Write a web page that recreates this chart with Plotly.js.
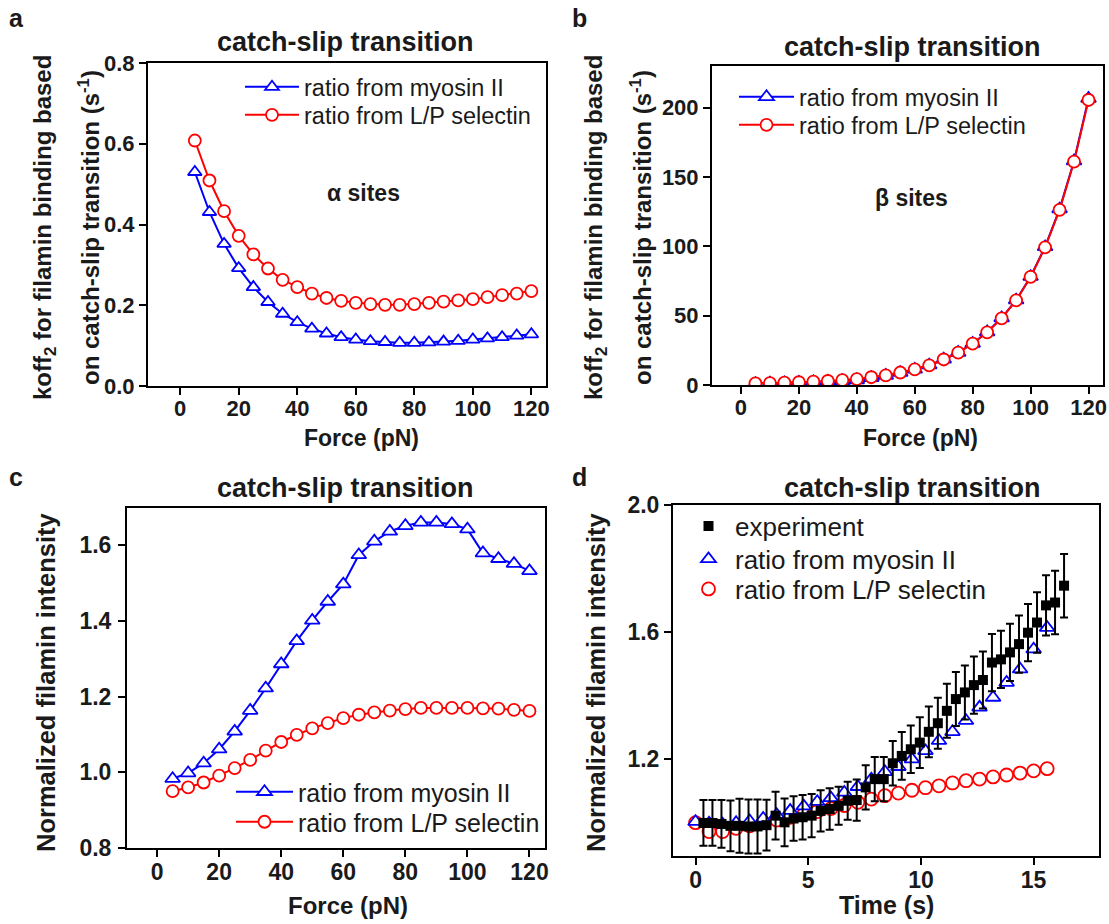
<!DOCTYPE html>
<html><head><meta charset="utf-8">
<script src="https://cdn.plot.ly/plotly-3.0.1.min.js"></script>
<style>html,body{margin:0;padding:0;background:#fff}#chart{width:1109px;height:924px}</style>
</head><body><div id="chart"></div>
<script>
// ---------- data ----------
const force = [5,10,15,20,25,30,35,40,45,50,55,60,65,70,75,80,85,90,95,100,105,110,115,120];
const aMyosin = [0.530,0.431,0.352,0.292,0.245,0.208,0.179,0.158,0.142,0.130,0.121,0.115,0.111,0.109,0.107,0.107,0.108,0.110,0.112,0.115,0.118,0.121,0.125,0.128];
const aSelectin = [0.608,0.509,0.433,0.372,0.326,0.291,0.263,0.245,0.229,0.218,0.211,0.206,0.203,0.201,0.201,0.203,0.206,0.209,0.212,0.215,0.220,0.225,0.229,0.235];
const bMyosin = [1.0,1.2,1.5,1.8,2.2,2.6,3.0,3.6,5.2,6.8,8.9,11.2,14.3,18.5,23.4,29.9,38.2,48.3,61.2,78.1,99.6,126.8,161.5,206.5];
const bSelectin = [1.2,1.4,1.7,2.0,2.4,2.9,3.5,4.3,5.6,7.0,9.0,11.3,14.2,18.4,23.3,29.8,38.0,48.0,61.0,77.9,99.3,126.3,161.0,205.5];
const cMyosin = [0.983,0.998,1.024,1.061,1.108,1.163,1.222,1.286,1.347,1.401,1.451,1.497,1.574,1.610,1.636,1.651,1.660,1.660,1.656,1.642,1.579,1.564,1.551,1.532];
const cSelectin = [0.950,0.960,0.973,0.991,1.011,1.033,1.057,1.080,1.099,1.116,1.130,1.143,1.152,1.158,1.163,1.167,1.170,1.170,1.170,1.170,1.169,1.168,1.165,1.162];
const timeExp = [0.35,0.75,1.15,1.55,1.95,2.35,2.75,3.15,3.55,3.95,4.35,4.75,5.15,5.55,5.95,6.35,6.75,7.15,7.55,7.95,8.35,8.75,9.15,9.55,9.95,10.35,10.75,11.15,11.55,11.95,12.35,12.75,13.15,13.55,13.95,14.35,14.75,15.15,15.55,15.95,16.35];
const dExperiment = [0.999,0.999,0.996,0.990,0.990,0.988,0.988,0.992,1.022,1.001,1.013,1.017,1.022,1.037,1.043,1.053,1.069,1.071,1.111,1.137,1.137,1.187,1.210,1.231,1.252,1.286,1.313,1.352,1.389,1.410,1.433,1.449,1.504,1.514,1.536,1.562,1.598,1.630,1.684,1.693,1.746];
const dError = [0.072,0.072,0.075,0.080,0.085,0.085,0.085,0.080,0.075,0.075,0.070,0.070,0.068,0.065,0.065,0.060,0.060,0.065,0.070,0.070,0.070,0.070,0.075,0.075,0.080,0.080,0.080,0.085,0.085,0.085,0.090,0.090,0.090,0.090,0.090,0.090,0.090,0.095,0.095,0.100,0.100];
const timeModel = [0,0.6,1.2,1.8,2.4,3.0,3.6,4.2,4.8,5.4,6.0,6.6,7.2,7.8,8.4,9.0,9.6,10.2,10.8,11.4,12.0,12.6,13.2,13.8,14.4,15.0,15.6];
const dMyosin = [1.003,0.998,0.995,1.000,1.005,1.013,1.025,1.038,1.052,1.066,1.078,1.095,1.113,1.137,1.160,1.176,1.200,1.226,1.258,1.286,1.321,1.363,1.394,1.441,1.483,1.546,1.614];
const dSelectin = [1.000,0.972,0.972,0.982,0.990,1.000,1.008,1.017,1.026,1.035,1.044,1.054,1.064,1.074,1.085,1.093,1.102,1.110,1.116,1.125,1.132,1.137,1.144,1.150,1.156,1.163,1.170];

const nameMyosin = 'ratio from myosin II';
const nameSelectin = 'ratio from L/P selectin';
const nameExp = 'experiment';

// ---------- styling ----------
const W = 1109, H = 924;
const FONT = 'Liberation Sans, Arial, sans-serif';
const TXT = '#1a1a1a';
const BLUE = '#0000ff', RED = '#ff0000';
const px = v => v / W, py = v => 1 - v / H;

function lm(color, symbol, size, leg, xa, ya, x, y, name, mode) {
  return {x, y, name, type: 'scatter', mode: mode || 'lines+markers', xaxis: xa, yaxis: ya, legend: leg,
    line: {color, width: 2},
    marker: {symbol, size, color: '#ffffff', line: {color, width: 1.8}}};
}

const traces = [
  lm(BLUE, 'triangle-up', 12, 'legend', 'x', 'y', force, aMyosin, nameMyosin),
  lm(RED, 'circle', 12, 'legend2', 'x', 'y', force, aSelectin, nameSelectin),
  lm(BLUE, 'triangle-up', 13, 'legend3', 'x2', 'y2', force, bMyosin, nameMyosin),
  lm(RED, 'circle', 12, 'legend4', 'x2', 'y2', force, bSelectin, nameSelectin),
  lm(BLUE, 'triangle-up', 13, 'legend5', 'x3', 'y3', force, cMyosin, nameMyosin),
  lm(RED, 'circle', 12, 'legend6', 'x3', 'y3', force, cSelectin, nameSelectin),
  lm(RED, 'circle', 13, 'legend9', 'x4', 'y4', timeModel, dSelectin, nameSelectin, 'markers'),
  lm(BLUE, 'triangle-up', 13, 'legend8', 'x4', 'y4', timeModel, dMyosin, nameMyosin, 'markers'),
  {x: timeExp, y: dExperiment, name: nameExp, type: 'scatter', mode: 'markers', xaxis: 'x4', yaxis: 'y4', legend: 'legend7',
   marker: {symbol: 'square', size: 10, color: '#000000'},
   error_y: {type: 'data', array: dError, visible: true, color: '#000000', thickness: 2, width: 4}}
];

function ax(domain, range, fs, extra) {
  return Object.assign({domain, range, showgrid: false, zeroline: false, showline: true, linecolor: '#000', linewidth: 2,
    mirror: true, ticks: 'outside', ticklen: 7, tickwidth: 2, tickcolor: '#000',
    tickfont: {family: FONT, size: fs, color: TXT, weight: 'bold'}}, extra || {});
}
const xT = {tickmode: 'array', tickvals: [0,20,40,60,80,100,120], ticklabelstandoff: -5};

function leg(x, y, iw, fs) {
  return {bgcolor: 'rgba(0,0,0,0)', borderwidth: 0, font: {family: FONT, size: fs, color: TXT},
    xanchor: 'left', yanchor: 'middle', x: px(x), y: py(y), itemwidth: iw};
}

function ann(text, x, y, size, opts) {
  return Object.assign({text, x: px(x), y: py(y), xref: 'paper', yref: 'paper', showarrow: false,
    xanchor: 'center', yanchor: 'middle', font: {family: FONT, size, color: TXT, weight: 'bold'}}, opts || {});
}

const layout = {
  width: W, height: H, margin: {l: 0, r: 0, t: 0, b: 0}, paper_bgcolor: '#fff', plot_bgcolor: '#fff',
  showlegend: true,
  xaxis: ax([px(148), px(546)], [-11, 125], 22, Object.assign({anchor: 'y'}, xT)),
  yaxis: ax([py(386), py(63)], [0, 0.8], 22, {anchor: 'x', tickmode: 'array', tickvals: [0,0.2,0.4,0.6,0.8], tickformat: '.1f'}),
  xaxis2: ax([px(712), px(1103)], [-10, 125], 22, Object.assign({anchor: 'y2'}, xT)),
  yaxis2: ax([py(385), py(66)], [0, 230], 22, {anchor: 'x2', tickmode: 'array', tickvals: [0,50,100,150,200]}),
  xaxis3: ax([px(127), px(545)], [-9.7, 125], 23, Object.assign({anchor: 'y3'}, xT)),
  yaxis3: ax([py(848), py(508)], [0.8, 1.698], 23, {anchor: 'x3', tickmode: 'array', tickvals: [0.8,1.0,1.2,1.4,1.6], tickformat: '.1f', ticklabelstandoff: 2}),
  xaxis4: ax([px(673), px(1099)], [-1, 17.9], 23, {anchor: 'y4', tickmode: 'array', tickvals: [0,5,10,15], ticklabelstandoff: -5}),
  yaxis4: ax([py(856), py(505)], [0.895, 2.0], 23, {anchor: 'x4', tickmode: 'array', tickvals: [1.2,1.6,2.0], tickformat: '.1f'}),
  legend: leg(240, 87, 54, 23.5),
  legend2: leg(240, 115, 54, 23.5),
  legend3: leg(734, 97, 55, 23.5),
  legend4: leg(734, 125, 55, 23.5),
  legend5: leg(231, 792, 57, 25),
  legend6: leg(231, 822, 57, 25),
  legend7: leg(682, 526, 43, 26),
  legend8: leg(682, 559, 43, 26),
  legend9: leg(682, 589, 43, 26),
  annotations: [
    ann('a', 16, 18, 25), ann('b', 579, 18, 25), ann('c', 16, 477, 25), ann('d', 579, 477, 25),
    ann('catch-slip transition', 345, 42, 27), ann('catch-slip transition', 912, 47, 27),
    ann('catch-slip transition', 345, 488, 27), ann('catch-slip transition', 912, 488, 27),
    ann('koff<sub>2</sub> for filamin binding based', 45, 228, 24, {textangle: -90}),
    ann('on catch-slip transition (s<sup>-1</sup>)', 89, 228, 24, {textangle: -90}),
    ann('koff<sub>2</sub> for filamin binding based', 596, 228, 24, {textangle: -90}),
    ann('on catch-slip transition (s<sup>-1</sup>)', 641, 228, 24, {textangle: -90}),
    ann('Normalized filamin intensity', 46, 683, 25.5, {textangle: -90}),
    ann('Normalized filamin intensity', 596, 683, 25.5, {textangle: -90}),
    ann('Force (pN)', 361, 438, 23), ann('Force (pN)', 920, 438, 23),
    ann('Force (pN)', 348, 905, 24), ann('Time (s)', 886, 905, 25),
    ann('\u03b1 sites', 363, 193, 23), ann('\u03b2 sites', 911, 198, 23)
  ]
};

Plotly.newPlot('chart', traces, layout, {staticPlot: true, displayModeBar: false});
</script></body></html>
